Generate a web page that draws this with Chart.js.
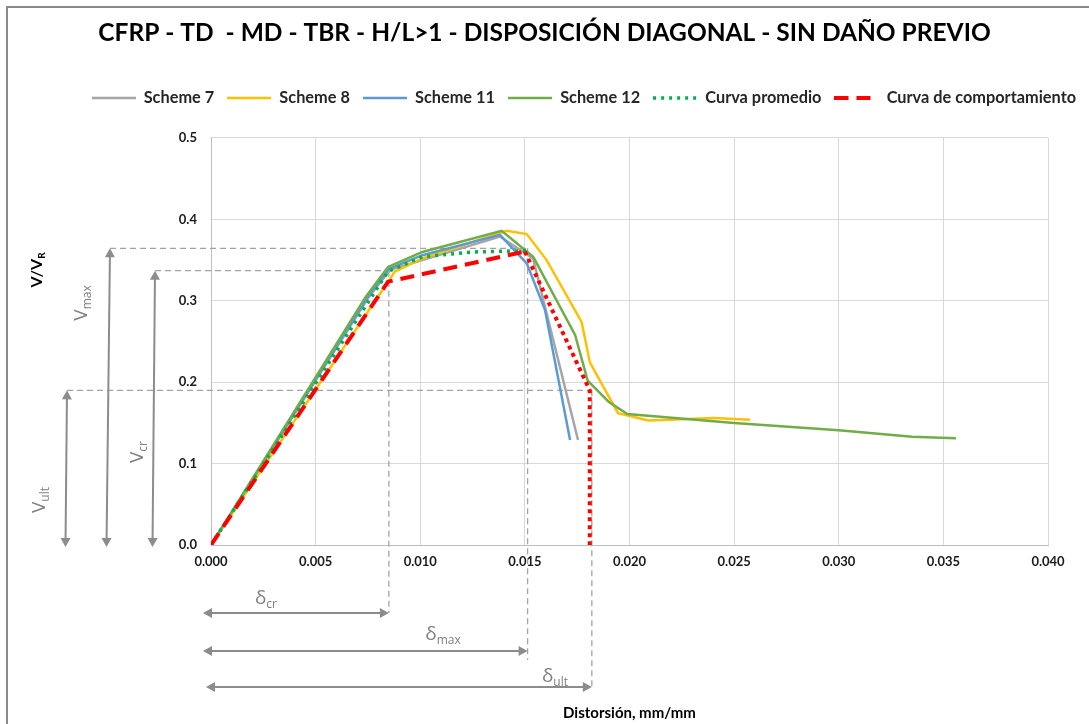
<!DOCTYPE html>
<html lang="es"><head><meta charset="utf-8"><title>CFRP chart</title>
<script src="https://cdn.jsdelivr.net/npm/chart.js@4/dist/chart.umd.min.js"></script>
<style>
html,body{margin:0;padding:0;background:#fff;overflow:hidden;}
#wrap{position:relative;width:1089px;height:724px;overflow:hidden;background:#fff;}
#frame{position:absolute;left:6px;top:6px;width:1200px;height:800px;border-left:2px solid #8a8a8a;border-top:2px solid #8a8a8a;box-sizing:border-box;}
#c{position:absolute;left:0;top:0;}
</style></head>
<body><div id="wrap"><div id="frame"></div><canvas id="c" width="1089" height="724"></canvas></div>
<script>
// ---------- text ----------
const titleText = 'CFRP - TD  - MD - TBR - H/L>1 - DISPOSICIÓN DIAGONAL - SIN DAÑO PREVIO';
const xAxisTitle = 'Distorsión, mm/mm';
const seriesLabels = ['Scheme 7', 'Scheme 8', 'Scheme 11', 'Scheme 12', 'Curva promedio', 'Curva de comportamiento'];
const xTickLabels = ['0.000', '0.005', '0.010', '0.015', '0.020', '0.025', '0.030', '0.035', '0.040'];
const yTickLabels = ['0.0', '0.1', '0.2', '0.3', '0.4', '0.5'];

// ---------- data ----------
const scheme7X = [0, 0.0075, 0.00855, 0.0101, 0.01381, 0.01539, 0.01754];
const scheme7Y = [0, 0.303, 0.338, 0.350, 0.379, 0.352, 0.129];
const scheme8X = [0, 0.00879, 0.0101, 0.01413, 0.01509, 0.01604, 0.01771, 0.01811, 0.01945, 0.0209, 0.0219, 0.0240, 0.02576];
const scheme8Y = [0, 0.336, 0.352, 0.386, 0.382, 0.350, 0.274, 0.224, 0.162, 0.153, 0.154, 0.156, 0.154];
const scheme11X = [0, 0.0075, 0.0085, 0.0101, 0.01381, 0.01509, 0.01596, 0.01716];
const scheme11Y = [0, 0.305, 0.339, 0.356, 0.381, 0.346, 0.289, 0.129];
const scheme12X = [0, 0.0074, 0.00846, 0.0101, 0.01389, 0.0154, 0.0174, 0.0180, 0.0190, 0.0199, 0.025, 0.030, 0.0335, 0.0356];
const scheme12Y = [0, 0.305, 0.3415, 0.360, 0.386, 0.354, 0.258, 0.202, 0.176, 0.161, 0.150, 0.141, 0.133, 0.131];
const promedioX = [0, 0.00846, 0.0101, 0.0125, 0.0151];
const promedioY = [0, 0.336, 0.354, 0.360, 0.3615];
const comportX = [0, 0.00846, 0.0150, 0.0181, 0.0181];
const comportY = [0, 0.3235, 0.3605, 0.190, 0];

// annotation levels: [cr, max, ult]
const vLevels = [0.337, 0.3645, 0.190];
const deltaLevels = [0.0085, 0.01513, 0.0182];
const vNames = ['cr', 'max', 'ult'];

// ---------- fonts ----------
const FONT = "Lato, 'Liberation Sans', Arial, sans-serif";
const ANN_FONT = "'Open Sans', 'DejaVu Sans', sans-serif";
const mctx = document.createElement('canvas').getContext('2d');
function textW(text, size, weight) { mctx.font = `${weight} ${size}px ${FONT}`; return mctx.measureText(text).width; }
const titleSize = 20 * 893 / textW(titleText, 20, 'bold');
const S1 = seriesLabels.reduce((s, t) => s + textW(t, 1, 'bold'), 0);
const LEG_LINE = 44, LEG_PAD = 13;
const legendSize = (985 - 6 * LEG_LINE - 5 * LEG_PAD) / (3 + S1);

// vertical layout targets
const titleLH = titleSize * 1.2;
const titlePadTop = 33 - titleLH / 2;
const legendTop = 98 - LEG_PAD - legendSize / 2;
const titlePadBottom = legendTop - (titlePadTop + titleLH);
const legendBottom = legendTop + legendSize + LEG_PAD + 10;
const spacerPad = 138 - legendBottom - 1.2;

const pts = (xs, ys) => xs.map((x, i) => ({x, y: ys[i]}));

// legend symbol images (line samples with the series' dash pattern)
function legendLine(color, width, dash) {
  const c = document.createElement('canvas');
  c.width = LEG_LINE; c.height = 8;
  const g = c.getContext('2d');
  g.strokeStyle = color; g.lineWidth = width; g.setLineDash(dash);
  g.beginPath(); g.moveTo(0, 4); g.lineTo(LEG_LINE, 4); g.stroke();
  return c;
}

function drawSubText(ctx, main, sub, cx, cy, o) {
  ctx.save();
  ctx.translate(cx, cy);
  if (o.rotate) ctx.rotate(o.rotate);
  ctx.fillStyle = o.color;
  ctx.textBaseline = 'alphabetic';
  ctx.textAlign = 'left';
  const f1 = `${o.weight || 'normal'} ${o.size}px ${o.family}`;
  const f2 = `${o.weight || 'normal'} ${o.subSize}px ${o.family}`;
  ctx.font = f1; const w1 = ctx.measureText(main).width;
  ctx.font = f2; const w2 = ctx.measureText(sub).width;
  const x0 = -(w1 + w2) / 2, base = o.size * 0.35;
  ctx.font = f1; ctx.fillText(main, x0, base);
  ctx.font = f2; ctx.fillText(sub, x0 + w1, base + o.size * 0.22);
  ctx.restore();
}
function dblArrow(ctx, x1, y1, x2, y2, color) {
  const ang = Math.atan2(y2 - y1, x2 - x1), hl = 9, hw = 5;
  const c = Math.cos(ang), s = Math.sin(ang);
  ctx.save();
  ctx.strokeStyle = color; ctx.fillStyle = color; ctx.lineWidth = 2; ctx.setLineDash([]);
  ctx.beginPath(); ctx.moveTo(x1 + c * hl * 0.8, y1 + s * hl * 0.8); ctx.lineTo(x2 - c * hl * 0.8, y2 - s * hl * 0.8); ctx.stroke();
  const head = (tx, ty, d) => {
    const cc = Math.cos(d), ss = Math.sin(d);
    ctx.beginPath(); ctx.moveTo(tx, ty);
    ctx.lineTo(tx - cc * hl - ss * hw, ty - ss * hl + cc * hw);
    ctx.lineTo(tx - cc * hl + ss * hw, ty - ss * hl - cc * hw);
    ctx.closePath(); ctx.fill();
  };
  head(x2, y2, ang); head(x1, y1, ang + Math.PI);
  ctx.restore();
}

const annotPlugin = {
  id: 'annot',
  beforeDatasetsDraw(chart) {
    const {ctx, chartArea: a, scales: {x, y}} = chart;
    const L = a.left, B = a.bottom;
    const yv = vLevels.map(v => y.getPixelForValue(v));
    const xd = deltaLevels.map(v => x.getPixelForValue(v));
    const arrowTopX = [L - 56, L - 101, L - 144];
    const dashEndY = [B + 68, B + 115, B + 145];
    ctx.save();
    ctx.strokeStyle = '#a3a3a3'; ctx.lineWidth = 1.3; ctx.setLineDash([6, 4]);
    for (let i = 0; i < 3; i++) {
      ctx.beginPath(); ctx.moveTo(arrowTopX[i], yv[i]); ctx.lineTo(xd[i], yv[i]); ctx.stroke();
      ctx.beginPath(); ctx.moveTo(xd[i], yv[i]); ctx.lineTo(xd[i], dashEndY[i]); ctx.stroke();
    }
    ctx.restore();
  },
  afterDraw(chart) {
    const {ctx, chartArea: a, scales: {x, y}} = chart;
    const L = a.left, B = a.bottom, T = a.top;
    const yv = vLevels.map(v => y.getPixelForValue(v));
    const xd = deltaLevels.map(v => x.getPixelForValue(v));
    const col = '#8c8c8c';
    const topX = [L - 56, L - 101, L - 144];
    const botX = [L - 58.5, L - 104.5, L - 145.5];
    for (let i = 0; i < 3; i++) dblArrow(ctx, topX[i], yv[i], botX[i], B + 2, col);
    const hy = [B + 68, B + 106, B + 142];
    const hx0 = [L - 8, L - 8, L - 5];
    for (let i = 0; i < 3; i++) dblArrow(ctx, hx0[i], hy[i], xd[i], hy[i], col);
    const vo = {size: 19, subSize: 12, color: '#7f7f7f', family: ANN_FONT, rotate: -Math.PI / 2};
    drawSubText(ctx, 'V', vNames[0], L - 75, T + 314, vo);
    drawSubText(ctx, 'V', vNames[1], L - 131, T + 165, vo);
    drawSubText(ctx, 'V', vNames[2], L - 173, T + 362, vo);
    const d = {size: 19, subSize: 12, color: '#7f7f7f', family: ANN_FONT};
    drawSubText(ctx, 'δ', vNames[0], L + 55, B + 52, d);
    drawSubText(ctx, 'δ', vNames[1], L + 232, B + 88, d);
    drawSubText(ctx, 'δ', vNames[2], L + 344, B + 130, d);
    drawSubText(ctx, 'V/V', 'R', L - 175, T + 132, {size: 16, subSize: 10, color: '#000', weight: 'bold', family: FONT, rotate: -Math.PI / 2});
  }
};

const lineBase = {pointRadius: 0, pointHoverRadius: 0, tension: 0, fill: false, borderWidth: 2.5};
const styles = [
  {color: '#a5a5a5', width: 2.5, dash: []},
  {color: '#ffc000', width: 2.5, dash: []},
  {color: '#5b9bd5', width: 2.5, dash: []},
  {color: '#70ad47', width: 2.5, dash: []},
  {color: '#00b050', width: 3.5, dash: [3, 5]},
  {color: '#ff0000', width: 4, dash: [14, 8]}
];
const mk = (i, xs, ys, extra) => ({...lineBase, label: seriesLabels[i], data: pts(xs, ys),
  borderColor: styles[i].color, borderWidth: styles[i].width, borderDash: styles[i].dash,
  pointStyle: legendLine(styles[i].color, styles[i].width, styles[i].dash), order: 5 - i, ...extra});

const chart = new Chart(document.getElementById('c'), {
  type: 'line',
  data: {
    datasets: [
      mk(0, scheme7X, scheme7Y),
      mk(1, scheme8X, scheme8Y),
      mk(2, scheme11X, scheme11Y),
      mk(3, scheme12X, scheme12Y),
      mk(4, promedioX, promedioY),
      mk(5, comportX, comportY, {segment: {borderDash: c => (c.p0DataIndex >= 2 ? [4, 4] : [14, 8])}})
    ]
  },
  options: {
    responsive: false,
    animation: false,
    events: [],
    layout: {padding: 0},
    plugins: {
      title: {display: true, text: titleText, color: '#000', font: {family: FONT, size: titleSize, weight: 'bold'},
        padding: {top: titlePadTop, bottom: titlePadBottom}},
      subtitle: {display: true, text: '', font: {size: 1}, padding: {top: 0, bottom: spacerPad}},
      legend: {display: true, position: 'top', align: 'end', weight: 1700,
        labels: {usePointStyle: true, pointStyleWidth: LEG_LINE, padding: LEG_PAD,
          color: '#262626', font: {family: FONT, size: legendSize, weight: 'bold'},
          sort: (a, b) => a.datasetIndex - b.datasetIndex}},
      tooltip: {enabled: false}
    },
    scales: {
      x: {type: 'linear', position: 'bottom', min: 0, max: 0.04,
        afterFit: s => { s.height = 179; },
        ticks: {stepSize: 0.005, padding: 9, color: '#1a1a1a', font: {family: FONT, size: 13, weight: 'bold'},
          callback: v => xTickLabels[Math.round(v / 0.005)]},
        grid: {color: '#d9d9d9', lineWidth: 1, drawTicks: false},
        border: {color: '#bfbfbf', width: 1},
        title: {display: true, text: xAxisTitle, color: '#000', font: {family: FONT, size: 15, weight: 'bold'}, padding: {top: 0, bottom: 2}}
      },
      y: {type: 'linear', position: 'left', min: 0, max: 0.5,
        afterFit: s => { s.width = 211; },
        ticks: {stepSize: 0.1, padding: 14, color: '#1a1a1a', font: {family: FONT, size: 13, weight: 'bold'},
          callback: v => yTickLabels[Math.round(v / 0.1)]},
        grid: {color: '#d9d9d9', lineWidth: 1, drawTicks: false},
        border: {color: '#bfbfbf', width: 1}
      },
      yR: {type: 'linear', position: 'right', display: true,
        afterFit: s => { s.width = 41; },
        ticks: {display: false}, grid: {display: false}, border: {display: false}}
    }
  },
  plugins: [annotPlugin]
});
</script></body></html>
